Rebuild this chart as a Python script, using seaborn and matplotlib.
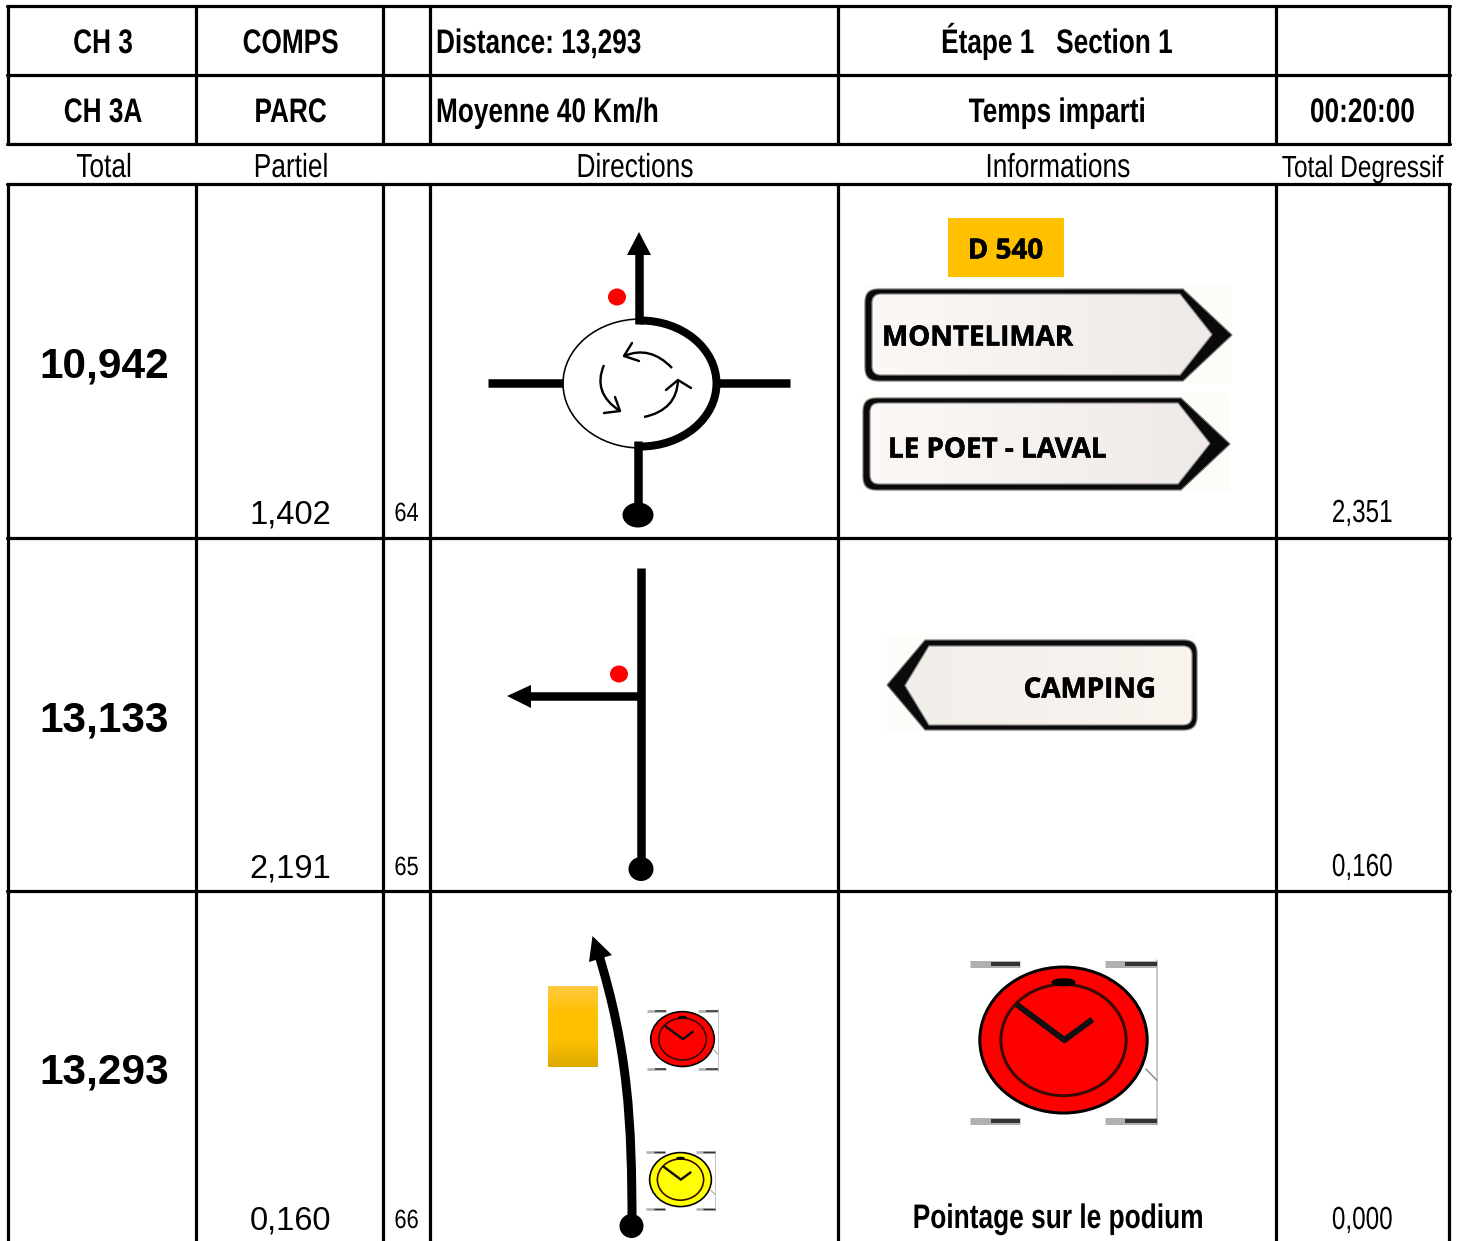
import numpy as np
import pandas as pd
import matplotlib
matplotlib.use('Agg')
import matplotlib.pyplot as plt
import seaborn as sns
from matplotlib.colors import LinearSegmentedColormap
from matplotlib.patches import Arc, Ellipse, PathPatch, Polygon, Rectangle
from matplotlib.path import Path
from matplotlib.patheffects import AbstractPathEffect, withStroke
from matplotlib.transforms import Affine2D

ARIAL = 'Liberation Sans'
SIGN = 'Open Sans'

# table content
header_col1 = ['CH 3', 'CH 3A']
header_col2 = ['COMPS', 'PARC']
header_col4 = ['Distance: 13,293', 'Moyenne 40 Km/h']
header_col5 = ['Étape 1   Section 1', 'Temps imparti']
header_col6 = ['', '00:20:00']
col_titles = ['Total', 'Partiel', 'Directions', 'Informations', 'Total Degressif']

totals = ['10,942', '13,133', '13,293']
partials = ['1,402', '2,191', '0,160']
case_numbers = ['64', '65', '66']
remaining = ['2,351', '0,160', '0,000']

col_x = [8, 196, 383, 430, 838, 1276, 1448.5]
row_y = [6, 75, 144, 184, 538, 891]

sns.set_theme(style='white')
plt.rcParams['font.family'] = [ARIAL, 'DejaVu Sans']
plt.rcParams['text.color'] = 'black'

fig = plt.figure(figsize=(14.64, 12.41), dpi=100)
ax = fig.add_axes([0, 0, 1, 1])


def px(w):
    return w * 72 / 100


class Squeeze(AbstractPathEffect):
    # no narrow font installed, so squeeze the glyphs around the anchor
    def __init__(self, sx, x0):
        super().__init__()
        self.sx = sx
        self.x0 = x0

    def draw_path(self, renderer, gc, tpath, affine, rgbFace=None):
        squeezed = affine + Affine2D().translate(-self.x0, 0).scale(self.sx, 1).translate(self.x0, 0)
        renderer.draw_path(gc, tpath, squeezed, rgbFace)


def narrow(x, y, s, fontsize, sx, ha='center', bold=False):
    t = ax.text(x, y, s, ha=ha, va='baseline', fontsize=fontsize, family=ARIAL, zorder=6,
                fontweight='bold' if bold else 'normal')
    t.set_path_effects([Squeeze(sx, x)])
    return t


def sign_text(x, y, s, ha='left'):
    ax.text(x, y, s, ha=ha, va='center', fontsize=20, fontweight='bold', family=SIGN, zorder=6,
            path_effects=[withStroke(linewidth=0.4, foreground='black')])


# grid lines
rules = []
for i, y in enumerate(row_y):
    rules.append({'rule': 'h%d' % i, 'x': col_x[0] - 1.5, 'y': y})
    rules.append({'rule': 'h%d' % i, 'x': col_x[-1] + 1, 'y': y})
for i, x in enumerate(col_x):
    for top, bot in [(row_y[0], row_y[2]), (row_y[3], 1241)]:
        rules.append({'rule': 'v%d_%d' % (i, top), 'x': x, 'y': top})
        rules.append({'rule': 'v%d_%d' % (i, top), 'x': x, 'y': bot})
rules = pd.DataFrame(rules)
sns.lineplot(data=rules, x='x', y='y', units='rule', estimator=None, sort=False,
             color='black', linewidth=px(3.2), legend=False, ax=ax, zorder=5)


def center_x(i):
    return (col_x[i] + col_x[i + 1]) / 2


# header text
for i, y in enumerate([53, 122]):
    narrow(center_x(0) + 1, y, header_col1[i], 24.5, .77, bold=True)
    narrow(center_x(1) + 1, y, header_col2[i], 24.5, .77, bold=True)
    narrow(436, y, header_col4[i], 24.5, .77, ha='left', bold=True)
    narrow(center_x(4), y, header_col5[i], 24.5, .77, bold=True)
    narrow(center_x(5), y, header_col6[i], 24.5, .77, bold=True)

title_pos = [104, 291, 635, 1058, center_x(5)]
for x, t, fs, sx in zip(title_pos, col_titles, [24, 24, 24, 24, 22], [.79, .79, .79, .79, .8]):
    narrow(x, 177, t, fs, sx)

# row numbers
for i in range(3):
    top, bot = row_y[3 + i], row_y[3 + i] + 353
    ax.text(center_x(0) + 2, top + 193, totals[i], ha='center', va='baseline',
            fontsize=30.5, fontweight='bold', family=ARIAL)
    ax.text(center_x(1) + 1, bot - 14, partials[i], ha='center', va='baseline',
            fontsize=23.5, family=ARIAL)
    narrow(center_x(2), bot - 16, case_numbers[i], 19, .83)
    narrow(center_x(5), bot - 15, remaining[i], 23, .76)


def road(xs, ys, w=8.5):
    ax.plot(xs, ys, color='black', lw=px(w), solid_capstyle='butt', zorder=3)


def triangle(pts):
    ax.add_patch(Polygon(pts, closed=True, fc='black', ec='none', zorder=3))


def blob(x, y, w, h, color='black'):
    ax.add_patch(Ellipse((x, y), w, h, fc=color, ec='none', zorder=4))


def swirl(p0, ctrl, p2, h1, h2):
    path = Path([p0, ctrl, p2], [Path.MOVETO, Path.CURVE3, Path.CURVE3])
    ax.add_patch(PathPatch(path, fc='none', ec='black', lw=px(2.4), zorder=3))
    ax.plot([h1[0], p2[0], h2[0]], [h1[1], p2[1], h2[1]], color='black',
            lw=px(2.4), zorder=3)


def gradient(box, colors, clip=None, horizontal=False, zorder=2):
    cmap = LinearSegmentedColormap.from_list('g', colors)
    n = np.linspace(0, 1, 64)
    arr = n.reshape(1, -1) if horizontal else n.reshape(-1, 1)
    x0, x1, y0, y1 = box
    im = ax.imshow(arr, cmap=cmap, extent=[x0, x1, y1, y0], aspect='auto',
                   interpolation='bilinear', zorder=zorder, vmin=0, vmax=1)
    if clip is not None:
        im.set_clip_path(clip)
    return im


def sign(left, right, top, bot, shoulder, tip, ileft, iright, itop, ibot, ishoulder, itip, flip=False):
    # outer black panel + lighter inner panel, rounded on the square end
    def shape(l, r, t, b, sh, tp, rad):
        mid = (t + b) / 2
        if not flip:
            v = [(l + rad, t), (sh, t), (tp, mid), (sh, b), (l + rad, b), (l, b), (l, b - rad),
                 (l, t + rad), (l, t), (l + rad, t), (l + rad, t)]
        else:
            v = [(r - rad, t), (sh, t), (tp, mid), (sh, b), (r - rad, b), (r, b), (r, b - rad),
                 (r, t + rad), (r, t), (r - rad, t), (r - rad, t)]
        c = [Path.MOVETO, Path.LINETO, Path.LINETO, Path.LINETO, Path.LINETO, Path.CURVE3, Path.CURVE3,
             Path.LINETO, Path.CURVE3, Path.CURVE3, Path.CLOSEPOLY]
        return Path(v, c)
    ax.add_patch(Rectangle((min(left, tip), top - 5), abs(max(right, tip) - min(left, tip)), bot - top + 7,
                           fc='#fdfcf8', ec='none', zorder=1))
    ax.add_patch(PathPatch(shape(left, right, top, bot, shoulder, tip, 13), fc='#0a0a0a', ec='#777777',
                           lw=px(1.2), zorder=2))
    path = shape(ileft, iright, itop, ibot, ishoulder, itip, 9)
    inner = PathPatch(path, fc='#f3efec', ec='none', zorder=2.5)
    ax.add_patch(inner)
    colors = ['#f2eeea', '#faf4ef'] if flip else ['#fbf8f6', '#efeae7']
    gradient((min(ileft, itip), max(iright, itip), itop, ibot), colors,
             clip=inner, horizontal=True, zorder=2.6)
    ax.add_patch(PathPatch(path, fc='none', ec='#8a8a8a', lw=px(1.2), zorder=2.7))


def clock(x0, x1, y0, y1, color):
    w, h = x1 - x0, y1 - y0
    s = w / 187
    thin = max(s, .55)
    fx = lambda f: x0 + f * w
    fy = lambda f: y0 + f * h
    ax.add_patch(Rectangle((x0, y0), w, h, fc='white', ec='none', zorder=2))
    ax.plot([x1, x1], [y0, y1], color='#b8b8b8', lw=px(1.5 * thin), zorder=2.1)
    ax.plot([fx(.94), fx(1)], [fy(.66), fy(.73)], color='#777777', lw=px(1.2 * thin), zorder=2.1)
    # tiny corner tags
    for a, b, yy in [(0, .27, .025), (.72, 1, .025), (0, .27, .975), (.72, 1, .975)]:
        ax.plot([fx(a), fx(b)], [fy(yy), fy(yy)], color='#b0b0b0', lw=px(7 * s), zorder=2.1, solid_capstyle='butt')
        ax.plot([fx(a + .11), fx(b)], [fy(yy), fy(yy)], color='#333333', lw=px(4 * s), zorder=2.2, solid_capstyle='butt')
    ax.add_patch(Ellipse((fx(.50), fy(.485)), .895 * w, .885 * h, fc=color, ec='black', lw=px(3 * thin), zorder=2.3))
    ax.add_patch(Ellipse((fx(.50), fy(.485)), .67 * w, .675 * h, fc='none', ec='#3a0a00', lw=px(3 * thin), zorder=2.4))
    ax.add_patch(Ellipse((fx(.50), fy(.135)), .13 * w, .05 * h, fc='black', ec='none', zorder=2.5))
    ax.plot([fx(.25), fx(.505), fx(.655)], [fy(.27), fy(.485), fy(.36)], color='#111111', lw=px(6 * max(s, .4)),
            solid_joinstyle='miter', solid_capstyle='butt', zorder=2.5)


# row 1: roundabout
cx, cy = 640.5, 383.5
ax.add_patch(Ellipse((cx, cy), 155, 129, fc='white', ec='black', lw=px(1.6), zorder=2))
ax.add_patch(Arc((cx, cy), 152, 126, theta1=-90, theta2=90, ec='black', lw=px(8), zorder=3))
road([639, 639], [324, 250])
triangle([(639, 232), (627, 255), (651, 255)])
road([638, 638], [441, 515])
blob(638, 515, 31, 25)
road([488, 563], [383, 383])
road([718, 790], [383, 383])
blob(617, 297, 18, 17, 'red')
swirl((672, 368), (650, 345), (624, 356), (632, 343), (639, 361))
swirl((604, 365), (592, 393), (620, 411), (615, 397), (604, 413))
swirl((644, 417), (677, 410), (678, 380), (666, 390), (691, 388))

ax.add_patch(Rectangle((948, 218), 116, 59, fc='#FFC000', ec='none', zorder=2))
sign_text(1005.5, 251, 'D 540', ha='center')
sign(865, 1232, 289, 381, 1183, 1232, 872, 1212, 294, 375, 1180, 1212)
sign_text(882, 338, 'MONTELIMAR')
sign(863, 1230, 398, 490, 1181, 1230, 870, 1210, 403, 484, 1178, 1210)
sign_text(888, 450, 'LE POET - LAVAL')

# row 2: left turn
road([641, 641], [568, 868])
road([641, 530], [696, 696])
triangle([(507, 696), (531, 685), (531, 708)])
blob(641, 869, 25, 24)
blob(619, 674, 18, 17, 'red')
sign(887, 1197, 640, 730, 925, 887, 905, 1192, 646, 725, 929, 905, flip=True)
sign_text(1156, 690, 'CAMPING', ha='right')

# row 3: finish
curve = Path([(632, 1225), (632, 1120), (628, 1050), (598, 952)],
             [Path.MOVETO, Path.CURVE4, Path.CURVE4, Path.CURVE4])
ax.add_patch(PathPatch(curve, fc='none', ec='black', lw=px(9), capstyle='butt', zorder=3))
triangle([(592.5, 936), (589, 962), (612, 955)])
blob(631.5, 1226, 24, 24)
gradient((548, 598, 986, 1067), ['#FFC93F', '#FFC000', '#FFC000', '#DCA900'])
clock(647, 718, 1009, 1071, 'red')
clock(646, 715, 1150, 1211, '#FFFF00')
clock(970, 1157, 960, 1125, 'red')
narrow(1058, 1228, 'Pointage sur le podium', 24.5, .773, bold=True)

ax.set_xlim(0, 1464)
ax.set_ylim(1241, 0)
ax.axis('off')
fig.savefig('out.png', dpi=100, facecolor='white')
